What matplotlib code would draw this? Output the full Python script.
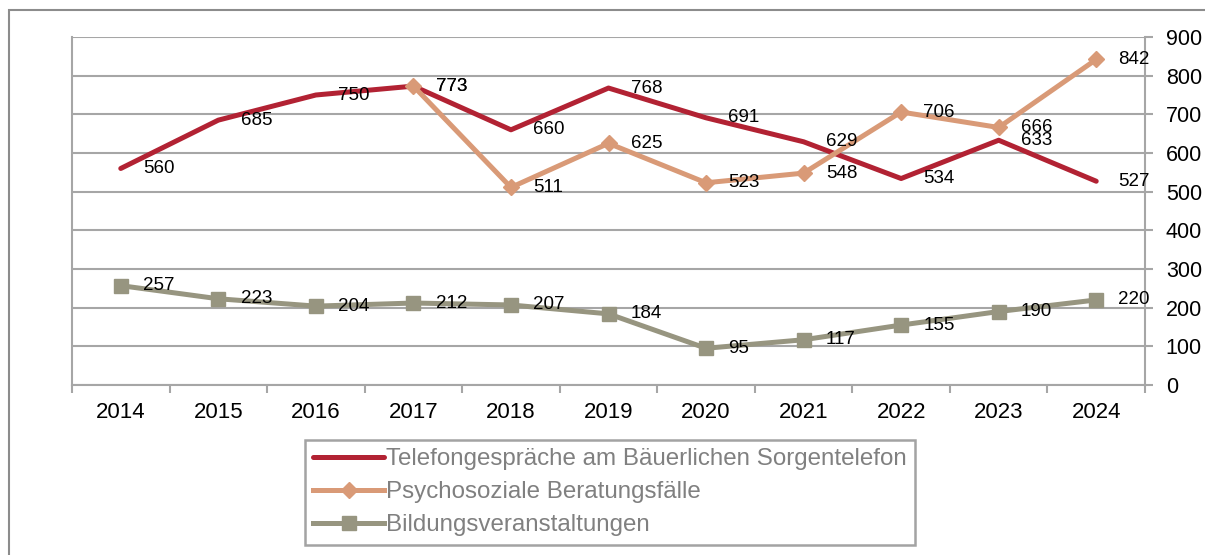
import numpy as np
import matplotlib.pyplot as plt
from matplotlib.patches import Rectangle

plt.rcParams['font.family'] = ['Liberation Sans', 'DejaVu Sans']

years = ['2014', '2015', '2016', '2017', '2018', '2019', '2020', '2021', '2022', '2023', '2024']
telefon = [560, 685, 750, 773, 660, 768, 691, 629, 534, 633, 527]
# psychosocial counselling only recorded from 2017 on
beratung_years = ['2017', '2018', '2019', '2020', '2021', '2022', '2023', '2024']
beratung = [773, 511, 625, 523, 548, 706, 666, 842]
bildung = [257, 223, 204, 212, 207, 184, 95, 117, 155, 190, 220]

names = ['Telefongespräche am Bäuerlichen Sorgentelefon',
         'Psychosoziale Beratungsfälle',
         'Bildungsveranstaltungen']

red = '#B22233'
orange = '#D99A77'
olive = '#979580'
grid = '#A6A6A6'

fig = plt.figure(figsize=(12.05, 5.55), dpi=100)
fig.patches.append(Rectangle((9 / 1205, -0.1), 1.2, 1.1 - 10 / 555,
                             transform=fig.transFigure, fill=False,
                             edgecolor='#8C8C8C', linewidth=1.5))
ax = fig.add_axes([72 / 1205, 1 - 385 / 555, (1145 - 72) / 1205, (385 - 37) / 555])

x_all = np.arange(len(years))
x_ber = np.array([years.index(y) for y in beratung_years])

ax.plot(x_all, telefon, color=red, linewidth=3.6, solid_capstyle='round',
        label=names[0], zorder=3)
ax.plot(x_ber, beratung, color=orange, linewidth=3.6, marker='D', markersize=8,
        label=names[1], zorder=4)
ax.plot(x_all, bildung, color=olive, linewidth=3.6, marker='s', markersize=9.5,
        label=names[2], zorder=4)

# value labels to the right of each point
for xs, ys in [(x_all, telefon), (x_ber, beratung), (x_all, bildung)]:
    for xi, yi in zip(xs, ys):
        ax.annotate(str(yi), (xi, yi), xytext=(16, 0), textcoords='offset points',
                    ha='left', va='center', fontsize=13.5, color='black', zorder=5)

ax.set_xlim(-0.5, len(years) - 0.5)
ax.set_ylim(0, 900)
ax.set_yticks(range(0, 901, 100))
ax.yaxis.tick_right()
ax.grid(axis='y', color=grid, linewidth=1.5)
ax.set_axisbelow(True)

ax.set_xticks(x_all)
ax.set_xticklabels(years)
ax.set_xticks(np.arange(-0.5, len(years), 1), minor=True)
ax.tick_params(axis='x', which='major', length=0, pad=12, labelsize=16)
ax.tick_params(axis='x', which='minor', length=6, color=grid, width=1.5)
ax.tick_params(axis='y', direction='out', length=6, color=grid, width=1.5,
               pad=9, labelsize=15.5)

for side in ['left', 'bottom', 'right']:
    ax.spines[side].set_color(grid)
    ax.spines[side].set_linewidth(1.5)
ax.spines['top'].set_visible(False)

leg = ax.legend(loc='upper left', bbox_to_anchor=(305 / 1205, 1 - 440 / 555),
                bbox_transform=fig.transFigure, fontsize=17.4, frameon=True,
                fancybox=False, handlelength=2.9, handletextpad=0.1,
                labelspacing=0.45, borderpad=0.35, borderaxespad=0)
leg.get_frame().set_edgecolor('#8C8C8C')
leg.get_frame().set_linewidth(1.8)
for t in leg.get_texts():
    t.set_color('#808080')

fig.savefig('out.png', dpi=100)
